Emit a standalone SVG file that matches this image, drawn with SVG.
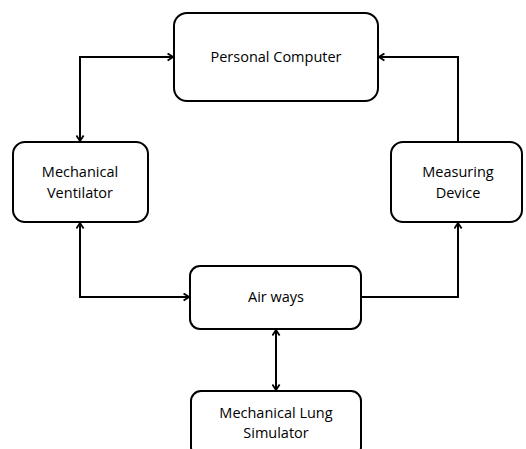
<svg xmlns="http://www.w3.org/2000/svg" width="526" height="449" viewBox="0 0 526 449">
<style>
.box{fill:#fff;stroke:#000;stroke-width:2}
.t{font-family:"Open Sans","Liberation Sans",sans-serif;font-size:14.5px;fill:#000;text-anchor:middle}
.c{fill:none;stroke:#000;stroke-width:2}
</style>
<defs>
<marker id="ah" viewBox="0 0 10 10" refX="9" refY="5" markerWidth="9" markerHeight="9" orient="auto-start-reverse" markerUnits="userSpaceOnUse">
<path d="M3,1 L9,5 L3,9" fill="none" stroke="#000" stroke-width="2"/>
</marker>
</defs>
<rect width="526" height="449" fill="#fff"/>
<g id="connectors">
<path class="c" d="M173,57 H80 V141" marker-start="url(#ah)" marker-end="url(#ah)"/>
<path class="c" d="M458,142 V57 H379" marker-end="url(#ah)"/>
<path class="c" d="M80,223 V297 H189" marker-start="url(#ah)" marker-end="url(#ah)"/>
<path class="c" d="M361,297 H458 V223" marker-end="url(#ah)"/>
<path class="c" d="M276,330 V390" marker-start="url(#ah)" marker-end="url(#ah)"/>
</g>
<g id="pc"><rect class="box" x="174" y="13" width="204" height="88" rx="13"/><text class="t" x="276" y="62">Personal Computer</text></g>
<g id="mv"><rect class="box" x="13" y="142" width="135" height="80" rx="12"/><text class="t" x="80" y="177">Mechanical</text><text class="t" x="80" y="198">Ventilator</text></g>
<g id="md"><rect class="box" x="391" y="142" width="131" height="80" rx="12"/><text class="t" x="458" y="177">Measuring</text><text class="t" x="458" y="198">Device</text></g>
<g id="aw"><rect class="box" x="190" y="266" width="171" height="63" rx="10"/><text class="t" x="276" y="302">Air ways</text></g>
<g id="mls"><rect class="box" x="191" y="391" width="170" height="66" rx="10"/><text class="t" x="276" y="418">Mechanical Lung</text><text class="t" x="276" y="438">Simulator</text></g>
</svg>
